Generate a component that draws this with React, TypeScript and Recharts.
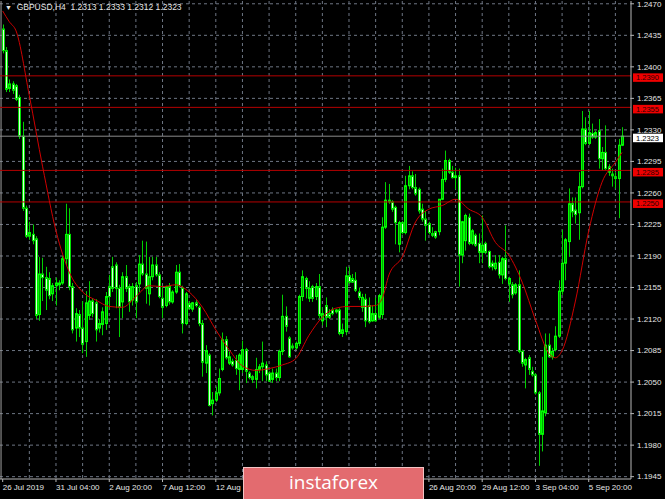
import { ComposedChart, Bar, Line, XAxis, YAxis, CartesianGrid, ReferenceLine } from 'recharts';

// GBPUSD H4, bars from 26 Jul 2019 12:00 to 9 Sep 2019 08:00
const opens = [
  1.2442, 1.2418, 1.2376, 1.2381, 1.2379, 1.2366, 1.2323, 1.2243, 1.2212, 1.2214,
  1.2209, 1.2125, 1.2170, 1.2166, 1.2165, 1.2148, 1.2157, 1.2158, 1.2160, 1.2187,
  1.2214, 1.2156, 1.2110, 1.2125, 1.2110, 1.2095, 1.2124, 1.2140, 1.2138, 1.2110,
  1.2114, 1.2115, 1.2156, 1.2178, 1.2180, 1.2154, 1.2139, 1.2167, 1.2156, 1.2141,
  1.2157, 1.2159, 1.2181, 1.2170, 1.2148, 1.2167, 1.2180, 1.2169, 1.2143, 1.2135,
  1.2156, 1.2139, 1.2150, 1.2172, 1.2154, 1.2115, 1.2137, 1.2131, 1.2138, 1.2133,
  1.2115, 1.2071, 1.2080, 1.2026, 1.2030, 1.2038, 1.2064, 1.2097, 1.2071, 1.2073,
  1.2074, 1.2064, 1.2064, 1.2086, 1.2060, 1.2056, 1.2053, 1.2064, 1.2067, 1.2069,
  1.2060, 1.2053, 1.2060, 1.2055, 1.2084, 1.2123, 1.2099, 1.2090, 1.2088, 1.2093,
  1.2145, 1.2165, 1.2143, 1.2156, 1.2145, 1.2156, 1.2118, 1.2135, 1.2126, 1.2130,
  1.2128, 1.2130, 1.2104, 1.2106, 1.2168, 1.2165, 1.2163, 1.2150, 1.2133, 1.2142,
  1.2135, 1.2118, 1.2126, 1.2122, 1.2125, 1.2222, 1.2252, 1.2250, 1.2244, 1.2203,
  1.2227, 1.2216, 1.2268, 1.2279, 1.2266, 1.2264, 1.2242, 1.2231, 1.2226, 1.2215,
  1.2217, 1.2217, 1.2253, 1.2275, 1.2296, 1.2283, 1.2277, 1.2279, 1.2191, 1.2207,
  1.2233, 1.2204, 1.2213, 1.2204, 1.2194, 1.2204, 1.2195, 1.2182, 1.2176, 1.2183,
  1.2169, 1.2187, 1.2159, 1.2158, 1.2149, 1.2158, 1.2084, 1.2069, 1.2077, 1.2062,
  1.2058, 1.2038, 1.1992, 1.2016, 1.2091, 1.2078, 1.2086, 1.2101, 1.2151, 1.2182,
  1.2206, 1.2248, 1.2241, 1.2238, 1.2267, 1.2331, 1.2315, 1.2326, 1.2322, 1.2329,
  1.2298, 1.2305, 1.2289, 1.2281, 1.2278, 1.2276, 1.2313,
];
const highs = [
  1.2447, 1.2422, 1.2386, 1.2384, 1.2381, 1.2369, 1.2339, 1.2246, 1.2228, 1.2225,
  1.2212, 1.2189, 1.2188, 1.2178, 1.2172, 1.2160, 1.2166, 1.2163, 1.2190, 1.2248,
  1.2243, 1.2160, 1.2132, 1.2130, 1.2140, 1.2151, 1.2162, 1.2143, 1.2142, 1.2120,
  1.2133, 1.2150, 1.2169, 1.2189, 1.2183, 1.2158, 1.2172, 1.2180, 1.2159, 1.2160,
  1.2161, 1.2191, 1.2207, 1.2206, 1.2189, 1.2189, 1.2189, 1.2172, 1.2157, 1.2157,
  1.2160, 1.2152, 1.2180, 1.2181, 1.2157, 1.2150, 1.2140, 1.2139, 1.2141, 1.2135,
  1.2119, 1.2091, 1.2082, 1.2039, 1.2045, 1.2065, 1.2105, 1.2101, 1.2084, 1.2076,
  1.2080, 1.2082, 1.2096, 1.2088, 1.2062, 1.2058, 1.2077, 1.2070, 1.2095, 1.2073,
  1.2062, 1.2065, 1.2065, 1.2086, 1.2147, 1.2134, 1.2101, 1.2093, 1.2095, 1.2147,
  1.2174, 1.2167, 1.2162, 1.2158, 1.2160, 1.2170, 1.2133, 1.2144, 1.2131, 1.2133,
  1.2131, 1.2132, 1.2115, 1.2178, 1.2178, 1.2170, 1.2172, 1.2155, 1.2148, 1.2148,
  1.2144, 1.2135, 1.2144, 1.2148, 1.2233, 1.2272, 1.2270, 1.2252, 1.2246, 1.2229,
  1.2229, 1.2279, 1.2290, 1.2284, 1.2281, 1.2266, 1.2248, 1.2240, 1.2228, 1.2222,
  1.2218, 1.2253, 1.2287, 1.2307, 1.2298, 1.2290, 1.2288, 1.2287, 1.2229, 1.2237,
  1.2237, 1.2220, 1.2215, 1.2215, 1.2235, 1.2206, 1.2196, 1.2185, 1.2191, 1.2191,
  1.2189, 1.2224, 1.2167, 1.2161, 1.2160, 1.2174, 1.2086, 1.2077, 1.2080, 1.2067,
  1.2060, 1.2040, 1.2078, 1.2104, 1.2104, 1.2088, 1.2112, 1.2163, 1.2219, 1.2210,
  1.2265, 1.2255, 1.2255, 1.2283, 1.2351, 1.2344, 1.2351, 1.2337, 1.2329, 1.2342,
  1.2311, 1.2335, 1.2292, 1.2287, 1.2283, 1.2320, 1.2333,
];
const lows = [
  1.2415, 1.2372, 1.2372, 1.2370, 1.2362, 1.2320, 1.2240, 1.2210, 1.2208, 1.2203,
  1.2120, 1.2118, 1.2140, 1.2130, 1.2142, 1.2140, 1.2135, 1.2152, 1.2158, 1.2180,
  1.2152, 1.2104, 1.2095, 1.2100, 1.2082, 1.2078, 1.2119, 1.2122, 1.2095, 1.2105,
  1.2102, 1.2108, 1.2132, 1.2150, 1.2132, 1.2100, 1.2121, 1.2150, 1.2128, 1.2135,
  1.2121, 1.2150, 1.2168, 1.2137, 1.2135, 1.2163, 1.2167, 1.2143, 1.2121, 1.2133,
  1.2136, 1.2137, 1.2148, 1.2155, 1.2104, 1.2113, 1.2130, 1.2128, 1.2133, 1.2112,
  1.2056, 1.2060, 1.2023, 1.2013, 1.2028, 1.2035, 1.2062, 1.2075, 1.2069, 1.2067,
  1.2058, 1.2041, 1.2060, 1.2049, 1.2053, 1.2049, 1.2043, 1.2060, 1.2051, 1.2051,
  1.2050, 1.2049, 1.2051, 1.2051, 1.2080, 1.2106, 1.2077, 1.2086, 1.2086, 1.2090,
  1.2140, 1.2143, 1.2139, 1.2139, 1.2141, 1.2121, 1.2113, 1.2111, 1.2120, 1.2124,
  1.2126, 1.2102, 1.2100, 1.2102, 1.2159, 1.2160, 1.2150, 1.2141, 1.2128, 1.2111,
  1.2115, 1.2117, 1.2117, 1.2120, 1.2120, 1.2220, 1.2248, 1.2239, 1.2203, 1.2194,
  1.2214, 1.2214, 1.2264, 1.2264, 1.2257, 1.2237, 1.2228, 1.2207, 1.2214, 1.2211,
  1.2209, 1.2213, 1.2252, 1.2272, 1.2281, 1.2276, 1.2264, 1.2156, 1.2182, 1.2196,
  1.2202, 1.2202, 1.2200, 1.2182, 1.2182, 1.2192, 1.2176, 1.2174, 1.2174, 1.2165,
  1.2159, 1.2163, 1.2139, 1.2143, 1.2147, 1.2082, 1.2067, 1.2043, 1.2058, 1.2056,
  1.2036, 1.1957, 1.1973, 1.2012, 1.2077, 1.2075, 1.2084, 1.2099, 1.2147, 1.2163,
  1.2189, 1.2233, 1.2226, 1.2208, 1.2265, 1.2313, 1.2313, 1.2320, 1.2320, 1.2287,
  1.2285, 1.2285, 1.2279, 1.2267, 1.2265, 1.2232, 1.2312,
];
const closes = [
  1.2418, 1.2375, 1.2381, 1.2374, 1.2364, 1.2323, 1.2243, 1.2212, 1.2216, 1.2207,
  1.2124, 1.2170, 1.2166, 1.2152, 1.2146, 1.2157, 1.2160, 1.2160, 1.2187, 1.2214,
  1.2156, 1.2108, 1.2126, 1.2110, 1.2092, 1.2138, 1.2140, 1.2126, 1.2108, 1.2115,
  1.2128, 1.2145, 1.2145, 1.2154, 1.2154, 1.2133, 1.2167, 1.2154, 1.2139, 1.2156,
  1.2139, 1.2181, 1.2170, 1.2154, 1.2167, 1.2180, 1.2169, 1.2145, 1.2133, 1.2156,
  1.2139, 1.2150, 1.2172, 1.2157, 1.2115, 1.2148, 1.2132, 1.2138, 1.2135, 1.2115,
  1.2072, 1.2085, 1.2024, 1.2030, 1.2038, 1.2054, 1.2097, 1.2077, 1.2078, 1.2069,
  1.2065, 1.2080, 1.2086, 1.2062, 1.2055, 1.2053, 1.2064, 1.2067, 1.2071, 1.2058,
  1.2051, 1.2060, 1.2055, 1.2084, 1.2123, 1.2112, 1.2078, 1.2088, 1.2093, 1.2145,
  1.2167, 1.2154, 1.2154, 1.2143, 1.2156, 1.2124, 1.2126, 1.2122, 1.2122, 1.2126,
  1.2130, 1.2104, 1.2108, 1.2168, 1.2161, 1.2161, 1.2152, 1.2144, 1.2144, 1.2118,
  1.2117, 1.2126, 1.2118, 1.2146, 1.2222, 1.2252, 1.2250, 1.2242, 1.2227, 1.2227,
  1.2216, 1.2268, 1.2279, 1.2266, 1.2259, 1.2240, 1.2231, 1.2224, 1.2216, 1.2213,
  1.2211, 1.2253, 1.2275, 1.2296, 1.2283, 1.2277, 1.2279, 1.2191, 1.2228, 1.2235,
  1.2204, 1.2218, 1.2202, 1.2194, 1.2202, 1.2194, 1.2178, 1.2178, 1.2182, 1.2169,
  1.2187, 1.2165, 1.2165, 1.2147, 1.2158, 1.2084, 1.2071, 1.2075, 1.2064, 1.2058,
  1.2038, 1.1992, 1.2018, 1.2091, 1.2078, 1.2084, 1.2101, 1.2151, 1.2182, 1.2208,
  1.2248, 1.2239, 1.2236, 1.2267, 1.2331, 1.2315, 1.2327, 1.2322, 1.2327, 1.2298,
  1.2305, 1.2287, 1.2283, 1.2279, 1.2276, 1.2313, 1.2323,
];

// moving average, read at selected bars
const maIdx = [0, 2, 4, 8, 12, 16, 20, 24, 28, 32, 36, 40, 44, 48, 52, 56, 60, 64, 68, 72, 76, 80, 84, 88, 92, 96,
  100, 104, 108, 112, 114, 116, 120, 124, 128, 132, 136, 140, 144, 148, 152, 156, 160, 164, 166, 168, 172, 176,
  180, 184, 186];
const maVals = [1.2462, 1.2450, 1.2440, 1.2368, 1.2289, 1.2218, 1.2172, 1.2150, 1.2141, 1.2134, 1.2133, 1.2145,
  1.2157, 1.2156, 1.2158, 1.2150, 1.2133, 1.2108, 1.2086, 1.2068, 1.2063, 1.2065, 1.2069, 1.2076, 1.2102, 1.2122,
  1.2132, 1.2134, 1.2134, 1.2135, 1.2143, 1.2169, 1.2189, 1.2228, 1.2242, 1.2246, 1.2253, 1.2242, 1.2233, 1.2205,
  1.2191, 1.2161, 1.2119, 1.2082, 1.2077, 1.2085, 1.2140, 1.2218, 1.2272, 1.2294, 1.2305];

// time labels; the ones hidden behind the watermark are left blank
const xTickIdx = [0, 16, 32, 48, 64, 80, 96, 112, 128, 144, 160, 176];
const xTickLabels = ['26 Jul 2019', '31 Jul 04:00', '2 Aug 20:00', '7 Aug 12:00', '12 Aug', '', '', '',
  '26 Aug 20:00', '29 Aug 12:00', '3 Sep 04:00', '5 Sep 20:00'];
const xGridIdx = [8, 16, 24, 32, 40, 48, 56, 64, 72, 80, 88, 96, 104, 112, 120, 128, 136, 144, 152, 160, 168, 176, 184];

const yTicks = [1.1945, 1.1980, 1.2015, 1.2050, 1.2085, 1.2120, 1.2155, 1.2190, 1.2225, 1.2260, 1.2295, 1.2330,
  1.2365, 1.2400, 1.2435, 1.2470];

const levels = [1.2390, 1.2355, 1.2285, 1.2250];
const lastPrice = 1.2323;

const WICK = '#00d000';
const BULL_FILL = '#00a800';
const BULL_EDGE = '#00ff00';
const BEAR_FILL = '#dcffdc';
const BEAR_EDGE = '#00e000';

const data = opens.map((o, i) => {
  const k = maIdx.indexOf(i);
  return {
    i,
    open: o,
    high: highs[i],
    low: lows[i],
    close: closes[i],
    range: [lows[i], highs[i]],
    ma: k >= 0 ? maVals[k] : null,
  };
});

function Candle(props: any) {
  const { x, y, width, height, payload } = props;
  if (x == null || y == null || !payload) return null;
  const { open, close, high, low } = payload;
  const top = Math.min(y, y + height);
  const h = Math.abs(height);
  const k = high > low ? h / (high - low) : 0;
  const cx = Math.round(x + width / 2) + 0.5;
  const bodyTop = top + (high - Math.max(open, close)) * k;
  const bodyH = Math.max(1, Math.abs(open - close) * k);
  const bull = close >= open;
  return (
    <g>
      <line x1={cx} x2={cx} y1={top} y2={top + h} stroke={WICK} strokeWidth={1} />
      <rect
        x={cx - 1}
        y={bodyTop}
        width={2}
        height={bodyH}
        fill={bull ? BULL_FILL : BEAR_FILL}
        stroke={bull ? BULL_EDGE : BEAR_EDGE}
        strokeWidth={1}
      />
    </g>
  );
}

function PriceTag({ viewBox, text, bg, fg }: any) {
  if (!viewBox) return null;
  const left = viewBox.x + viewBox.width + 2;
  return (
    <g>
      <rect x={left} y={viewBox.y - 2.5} width={30} height={8.5} fill={bg} />
      <text x={left + 3} y={viewBox.y + 1.8} dy="0.35em" fontSize={7.5} fill={fg}>
        {text}
      </text>
    </g>
  );
}

function DateTick({ x, y, payload }: any) {
  const k = xTickIdx.indexOf(payload.value);
  const label = k >= 0 ? xTickLabels[k] : '';
  if (!label) return null;
  return (
    <text x={x} y={y} dy="0.71em" textAnchor="start" fontSize={8} fill="#e6e6e6">
      {label}
    </text>
  );
}

export default function App() {
  return (
    <div
      style={{
        position: 'absolute',
        left: 0,
        top: 0,
        width: 665,
        height: 499,
        background: '#000',
        fontFamily: '"Liberation Sans", Arial, sans-serif',
        overflow: 'hidden',
      }}
    >
      <ComposedChart width={665} height={499} data={data} margin={{ top: 1, right: 0, bottom: 0, left: 0 }}>
        <CartesianGrid
          stroke="#6e7684"
          strokeDasharray="3 3"
          horizontalValues={yTicks}
          verticalValues={xGridIdx}
        />
        <XAxis
          dataKey="i"
          type="number"
          domain={[-0.81, 188.69]}
          allowDataOverflow
          ticks={xTickIdx}
          interval={0}
          height={20}
          tickSize={3}
          tickMargin={2}
          tick={<DateTick />}
          axisLine={{ stroke: '#b8b8b8' }}
          tickLine={{ stroke: '#b8b8b8' }}
        />
        <YAxis
          orientation="right"
          type="number"
          width={34}
          domain={[1.19424, 1.24731]}
          allowDataOverflow
          ticks={yTicks}
          interval={0}
          tickSize={3}
          tickMargin={3}
          tickFormatter={(v: number) => v.toFixed(4)}
          tick={{ fill: '#e6e6e6', fontSize: 8 }}
          axisLine={{ stroke: '#b8b8b8' }}
          tickLine={{ stroke: '#b8b8b8' }}
        />
        <ReferenceLine x={-0.5} stroke="#a0a0a0" />
        {levels.map((lv) => (
          <ReferenceLine
            key={lv}
            y={lv}
            stroke="#b40000"
            strokeWidth={1}
            label={(p: any) => <PriceTag viewBox={p.viewBox} text={lv.toFixed(4)} bg="#f00000" fg="#2a0000" />}
          />
        ))}
        <ReferenceLine
          y={lastPrice}
          stroke="#8c8c8c"
          strokeWidth={1}
          label={(p: any) => <PriceTag viewBox={p.viewBox} text={lastPrice.toFixed(4)} bg="#ffffff" fg="#000000" />}
        />
        <Bar dataKey="range" barSize={3} shape={(p: any) => <Candle {...p} />} isAnimationActive={false} />
        <Line
          dataKey="ma"
          type="monotone"
          connectNulls
          dot={false}
          stroke="#d00000"
          strokeWidth={1}
          isAnimationActive={false}
        />
      </ComposedChart>

      <div
        style={{
          position: 'absolute',
          left: 5,
          top: 2,
          fontSize: 8.5,
          color: '#e6e6e6',
          whiteSpace: 'pre',
          lineHeight: '11px',
        }}
      >
        <span style={{ fontSize: 7 }}>▼</span>
        {'  GBPUSD,H4  1.2313 1.2333 1.2312 1.2323'}
      </div>

      <div
        style={{
          position: 'absolute',
          left: 243,
          top: 467,
          width: 181,
          height: 33,
          boxSizing: 'border-box',
          background: '#e36b6f',
          border: '1px solid #f2c4c4',
          color: '#ffffff',
          fontFamily: '"Open Sans", sans-serif',
          fontSize: 19,
          lineHeight: '28px',
          textAlign: 'center',
        }}
      >
        instaforex
      </div>
    </div>
  );
}
